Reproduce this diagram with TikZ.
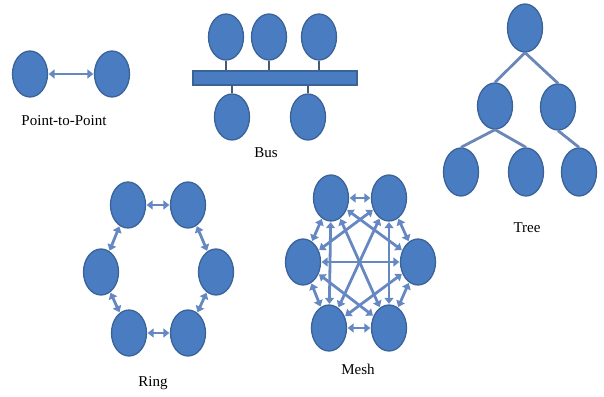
\documentclass[tikz,border=0pt]{standalone}
\usepackage{fontspec}
\setmainfont{Liberation Serif}
\usetikzlibrary{arrows.meta,shapes.geometric}
\definecolor{nodefill}{HTML}{4A7CC2}
\definecolor{nodeline}{HTML}{3A6398}
\definecolor{linkcol}{HTML}{6688C2}
\definecolor{treecol}{HTML}{6B86B8}
\definecolor{stemcol}{HTML}{4A5A70}
\tikzset{
  host/.style={ellipse, draw=nodeline, fill=nodefill, line width=1.3pt,
    minimum width=35pt, minimum height=46pt, inner sep=0pt},
  tallhost/.style={host, minimum height=48pt},
  link/.style={draw=linkcol, line width=2.8pt, {Triangle[width=9pt,length=6pt]}-{Triangle[width=9pt,length=6pt]}, shorten <=0.5pt, shorten >=0.5pt},
  branch/.style={draw=treecol, line width=2.8pt},
  stem/.style={draw=stemcol, line width=1.4pt},
  caption/.style={font=\fontsize{15}{17}\selectfont, text=black}
}
\begin{document}
\begin{tikzpicture}[x=1pt,y=-1pt]
\useasboundingbox (0,0) rectangle (604,396);

% Point-to-point
\node[host] (p1) at (30,74) {};
\node[host] (p2) at (112,74) {};
\draw[link] (p1) -- (p2);
\node[caption] (pcap) at (64,121) {Point-to-Point};

% Bus
\node[host] (bt1) at (226,37) {};
\node[host] (bt2) at (269,37) {};
\node[host] (bt3) at (319,37) {};
\node[draw=nodeline, fill=nodefill, line width=1.3pt, minimum width=164pt, minimum height=14pt, inner sep=0pt] (bar) at (275,78) {};
\node[host] (bb1) at (232,117) {};
\node[host] (bb2) at (308,117) {};
\draw[stem] (bt1.south) -- (bt1.south |- bar.north);
\draw[stem] (bt2.south) -- (bt2.south |- bar.north);
\draw[stem] (bt3.south) -- (bt3.south |- bar.north);
\draw[stem] (bb1.north) -- (bb1.north |- bar.south);
\draw[stem] (bb2.north) -- (bb2.north |- bar.south);
\node[caption] (bcap) at (266,153) {Bus};

% Tree
\node[tallhost] (t0) at (525,28) {};
\node[host] (t1) at (495,106) {};
\node[host] (t2) at (558,107) {};
\node[tallhost] (t3) at (461,172) {};
\node[tallhost] (t4) at (526,172) {};
\node[tallhost] (t5) at (579,172) {};
\draw[branch] (t0.south) -- (t1.north);
\draw[branch] (t0.south) -- (t2.north);
\draw[branch] (t1.south) -- (t3.north);
\draw[branch] (t1.south) -- (t4.north);
\draw[branch] (t2.south) -- (t5.north);
\node[caption] (tcap) at (527,228) {Tree};

% Ring
\node[host] (r1) at (128,205) {};
\node[host] (r2) at (188,205) {};
\node[host] (r3) at (216,272) {};
\node[host] (r4) at (188,333) {};
\node[host] (r5) at (129,333) {};
\node[host] (r6) at (101,272) {};
\foreach \a/\b in {r1/r2,r2/r3,r3/r4,r4/r5,r5/r6,r6/r1}
  \draw[link] (\a) -- (\b);
\node[caption] (rcap) at (153,383) {Ring};

% Mesh: every pair of hosts linked
\node[host] (m1) at (331,198) {};
\node[host] (m2) at (389,198) {};
\node[host] (m3) at (418,262) {};
\node[host] (m4) at (389,328) {};
\node[host] (m5) at (329,328) {};
\node[host] (m6) at (303,262) {};
\foreach \a/\b in {m1/m2,m2/m3,m3/m4,m4/m5,m5/m6,m6/m1,m1/m3,m1/m4,m1/m5,m2/m4,m2/m5,m2/m6,m3/m5,m3/m6,m4/m6}
  \draw[link] (\a) -- (\b);
\node[caption] (mcap) at (358,369) {Mesh};
\end{tikzpicture}
\end{document}
